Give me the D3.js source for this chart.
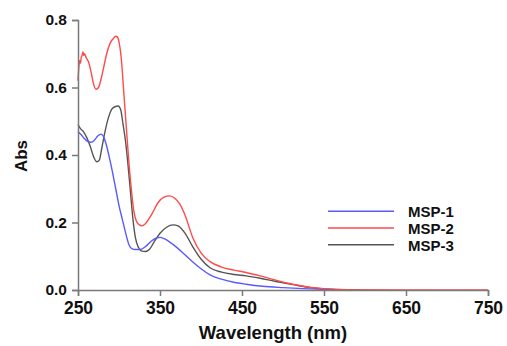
<!DOCTYPE html>
<html>
<head>
<meta charset="utf-8">
<script src="https://cdn.jsdelivr.net/npm/d3@7"></script>
<style>
  html, body { margin: 0; padding: 0; background: #fff; }
  svg { display: block; font-family: "Liberation Sans", Arial, sans-serif; }
</style>
</head>
<body>
<svg id="chart" width="507" height="346"></svg>
<script>
// ---- data ----
const seriesNames = ["MSP-1", "MSP-2", "MSP-3"];

const msp1Wavelength = [250,254,258,262,266,270,274,278,281,284,288,292,296,300,304,308,312,316,320,326,333,340,346,350,355,362,370,380,390,400,411,425,440,455,475,500,525,550,584];
const msp1Abs        = [0.47,0.46,0.448,0.44,0.438,0.444,0.456,0.462,0.455,0.435,0.395,0.35,0.3,0.25,0.21,0.17,0.135,0.122,0.12,0.12,0.13,0.146,0.154,0.156,0.152,0.142,0.127,0.105,0.083,0.063,0.045,0.032,0.023,0.017,0.011,0.007,0.004,0.002,0.0];

const msp2Wavelength = [250,251,252,253,254,255,256,257,258,260,263,266,269,272,275,280,285,290,293,296,298,300,303,306,309,312,315,318,321,324,328,332,340,348,355,362,368,374,380,390,400,411,425,440,455,472,490,512,530,550,580,650,750];
const msp2Abs        = [0.62,0.66,0.68,0.672,0.69,0.695,0.705,0.695,0.7,0.688,0.675,0.645,0.61,0.595,0.6,0.645,0.7,0.735,0.745,0.752,0.75,0.735,0.68,0.58,0.48,0.38,0.3,0.235,0.205,0.195,0.19,0.196,0.225,0.26,0.275,0.279,0.272,0.255,0.225,0.155,0.11,0.084,0.068,0.059,0.052,0.042,0.03,0.017,0.009,0.004,0.001,0.0,0.0];

const msp3Wavelength = [250,253,257,261,265,269,273,276,279,283,287,291,295,299,302,305,308,311,314,317,320,324,328,332,337,343,350,358,366,372,380,390,400,411,425,440,455,472,490,512,530,550,584];
const msp3Abs        = [0.49,0.478,0.468,0.45,0.425,0.395,0.38,0.385,0.42,0.47,0.51,0.535,0.543,0.545,0.535,0.49,0.44,0.37,0.29,0.21,0.155,0.125,0.115,0.114,0.12,0.143,0.168,0.186,0.193,0.19,0.17,0.128,0.092,0.066,0.053,0.046,0.042,0.035,0.026,0.016,0.008,0.003,0.0];

const xTicks = [250, 350, 450, 550, 650, 750];
const yTicks = [0.0, 0.2, 0.4, 0.6, 0.8];
const seriesColors = ["#5a5aff", "#ff4a4a", "#555555"];

// ---- layout ----
const svg = d3.select("#chart");
const plot = { left: 78, right: 488, top: 20, bottom: 290 };

const x = d3.scaleLinear().domain([250, 750]).range([plot.left, plot.right]);
const y = d3.scaleLinear().domain([0, 0.8]).range([plot.bottom, plot.top]);

const series = [
  { name: seriesNames[0], color: seriesColors[0], wl: msp1Wavelength, abs: msp1Abs },
  { name: seriesNames[1], color: seriesColors[1], wl: msp2Wavelength, abs: msp2Abs },
  { name: seriesNames[2], color: seriesColors[2], wl: msp3Wavelength, abs: msp3Abs }
];

const line = d3.line()
  .x(d => x(d[0]))
  .y(d => y(d[1]))
  .curve(d3.curveMonotoneX);

// draw order: black, blue, red on top
[2, 0, 1].forEach(i => {
  const s = series[i];
  svg.append("path")
    .datum(s.wl.map((w, k) => [w, s.abs[k]]))
    .attr("fill", "none")
    .attr("stroke", s.color)
    .attr("stroke-width", 1.4)
    .attr("stroke-linejoin", "round")
    .attr("d", line);
});

// axes
const axisColor = "#7a7a7a";
const xAxis = svg.append("g")
  .attr("transform", `translate(0,${plot.bottom})`)
  .call(d3.axisBottom(x).tickValues(xTicks).tickFormat(d3.format("d")).tickSize(6).tickPadding(6));
xAxis.selectAll("text")
  .attr("fill", "#111")
  .style("font-size", "17.5px")
  .style("font-weight", "bold");

const yAxis = svg.append("g")
  .attr("transform", `translate(${plot.left},0)`)
  .call(d3.axisLeft(y).tickValues(yTicks).tickFormat(d3.format(".1f")).tickSize(6).tickPadding(5));
yAxis.selectAll("text")
  .attr("fill", "#111")
  .style("font-size", "15.5px")
  .style("font-weight", "bold");

[xAxis, yAxis].forEach(g => {
  g.select(".domain").attr("stroke", axisColor).attr("stroke-width", 1.5);
  g.selectAll(".tick line").attr("stroke", axisColor).attr("stroke-width", 1.5);
});

// axis titles
svg.append("text")
  .attr("x", 273)
  .attr("y", 338.5)
  .attr("text-anchor", "middle")
  .attr("fill", "#111")
  .style("font-size", "18.5px")
  .style("font-weight", "bold")
  .text("Wavelength (nm)");

svg.append("text")
  .attr("transform", "translate(27,156) rotate(-90)")
  .attr("text-anchor", "middle")
  .attr("fill", "#111")
  .style("font-size", "17px")
  .style("font-weight", "bold")
  .text("Abs");

// legend
const legend = svg.append("g");
series.forEach((s, i) => {
  const by = 217.3 + i * 16.7;
  legend.append("line")
    .attr("x1", 328).attr("x2", 394)
    .attr("y1", by - 6).attr("y2", by - 6)
    .attr("stroke", s.color)
    .attr("stroke-width", 1.4);
  legend.append("text")
    .attr("x", 408)
    .attr("y", by)
    .attr("fill", "#111")
    .style("font-size", "15px")
    .style("font-weight", "bold")
    .text(s.name);
});
</script>
</body>
</html>
